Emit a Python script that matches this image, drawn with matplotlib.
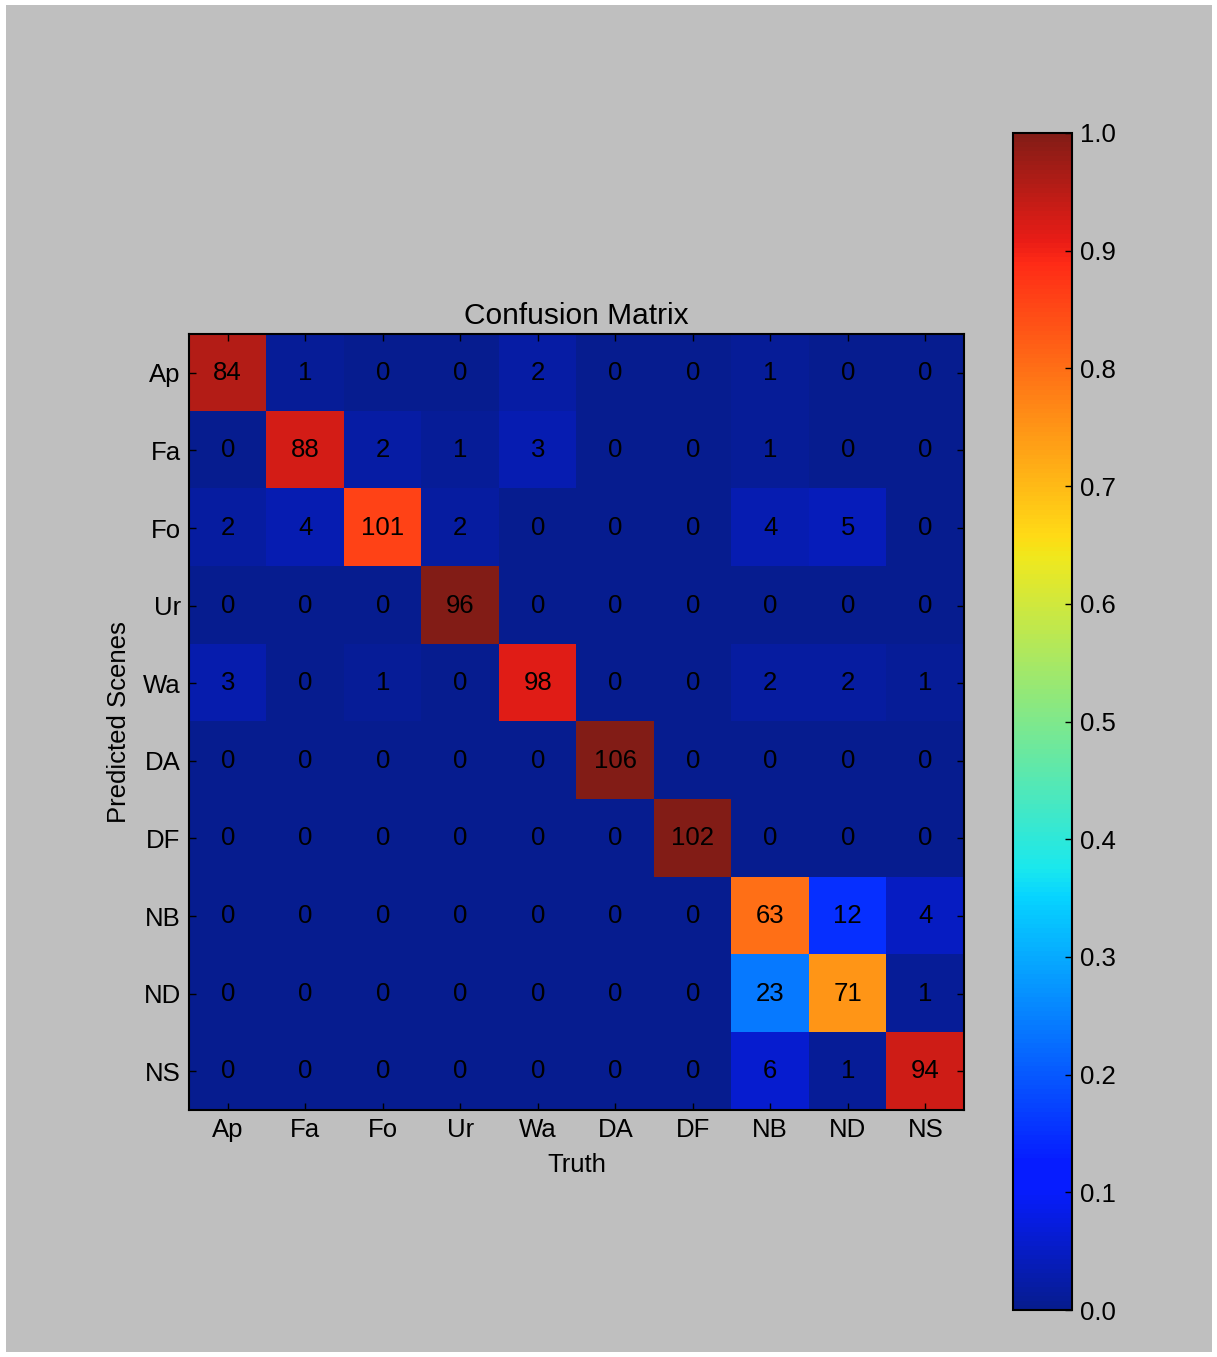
import matplotlib
matplotlib.use("Agg")
import matplotlib.pyplot as plt
import matplotlib.patches as mpatches
from matplotlib.colors import ListedColormap
import numpy as np

# etiquetas de las escenas (filas = prediccion, columnas = verdad)
etiquetas = ["Ap", "Fa", "Fo", "Ur", "Wa", "DA", "DF", "NB", "ND", "NS"]

fila_Ap = [84, 1, 0, 0, 2, 0, 0, 1, 0, 0]
fila_Fa = [0, 88, 2, 1, 3, 0, 0, 1, 0, 0]
fila_Fo = [2, 4, 101, 2, 0, 0, 0, 4, 5, 0]
fila_Ur = [0, 0, 0, 96, 0, 0, 0, 0, 0, 0]
fila_Wa = [3, 0, 1, 0, 98, 0, 0, 2, 2, 1]
fila_DA = [0, 0, 0, 0, 0, 106, 0, 0, 0, 0]
fila_DF = [0, 0, 0, 0, 0, 0, 102, 0, 0, 0]
fila_NB = [0, 0, 0, 0, 0, 0, 0, 63, 12, 4]
fila_ND = [0, 0, 0, 0, 0, 0, 0, 23, 71, 1]
fila_NS = [0, 0, 0, 0, 0, 0, 0, 6, 1, 94]

conteos = np.array([fila_Ap, fila_Fa, fila_Fo, fila_Ur, fila_Wa,
                    fila_DA, fila_DF, fila_NB, fila_ND, fila_NS])
# normalizacion por fila para el color
normalizada = conteos / conteos.sum(axis=1, keepdims=True)

# jet con el tono algo lavado que tiene la captura original
base = plt.get_cmap("jet")(np.linspace(0, 1, 256))
lavado = base.copy()
lavado[:, 0] = np.clip(6/255.0 + 0.98*base[:, 0], 0, 1)
lavado[:, 1] = np.clip(28/255.0 + 0.80*base[:, 1], 0, 1)
lavado[:, 2] = np.clip(22/255.0 + 0.95*base[:, 2], 0, 1)
mapa = ListedColormap(lavado)

plt.rcParams['font.family'] = ['Liberation Sans', 'DejaVu Sans']
gris = "#bfbfbf"
tam = 18.5

W, H = 1217, 1357
fig = plt.figure(figsize=(W/100.0, H/100.0), dpi=100, facecolor="white")
# fondo gris con borde blanco
fig.patches.append(mpatches.Rectangle((6.0/W, 5.0/H), 1206.0/W, 1347.0/H,
                                      transform=fig.transFigure, facecolor=gris,
                                      edgecolor="none", zorder=-10))

ax = fig.add_axes([189.0/W, 1-1110.0/H, 775.0/W, 776.0/H])
im = ax.imshow(normalizada, cmap=mapa, vmin=0, vmax=1,
               interpolation="nearest", aspect="auto")
for i in range(len(etiquetas)):
    for j in range(len(etiquetas)):
        ax.text(j, i, str(conteos[i, j]), ha="center", va="center",
                fontsize=tam, color="black")

ax.set_xticks(range(len(etiquetas)))
ax.set_yticks(range(len(etiquetas)))
ax.set_xticklabels(etiquetas, fontsize=tam)
ax.set_yticklabels(etiquetas, fontsize=tam)
ax.tick_params(direction="in", top=True, right=True, length=5, width=1,
               pad=6)
for s in ax.spines.values():
    s.set_linewidth(1.5)
ax.set_title("Confusion Matrix", fontsize=21.5, pad=7)
ax.set_xlabel("Truth", fontsize=tam, labelpad=8)
ax.set_ylabel("Predicted Scenes", fontsize=tam, labelpad=9)

cax = fig.add_axes([1013.0/W, 1-1310.0/H, 59.0/W, 1177.0/H])
cb = fig.colorbar(im, cax=cax)
cb.set_ticks(np.arange(0, 1.01, 0.1))
cb.ax.set_yticklabels(["%.1f" % v for v in np.arange(0, 1.01, 0.1)],
                      fontsize=tam)
cb.ax.tick_params(direction="in", length=5, width=1, pad=6)
cb.outline.set_linewidth(1.5)

fig.savefig("out.png", dpi=100, facecolor=fig.get_facecolor())
